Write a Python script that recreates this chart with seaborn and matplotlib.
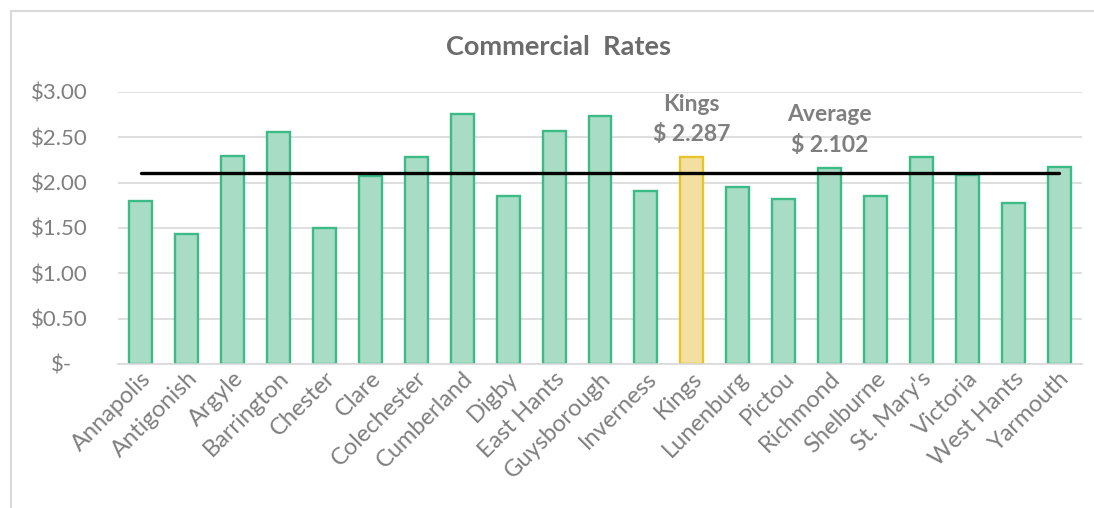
import matplotlib
matplotlib.use("Agg")
import matplotlib.pyplot as plt
import matplotlib.transforms as mtransforms
from matplotlib.lines import Line2D
import seaborn as sns
import pandas as pd

categories = ["Annapolis", "Antigonish", "Argyle", "Barrington", "Chester", "Clare",
              "Colechester", "Cumberland", "Digby", "East Hants", "Guysborough",
              "Inverness", "Kings", "Lunenburg", "Pictou", "Richmond", "Shelburne",
              "St. Mary's", "Victoria", "West Hants", "Yarmouth"]
rates = [1.80, 1.43, 2.29, 2.56, 1.50, 2.07, 2.28, 2.76, 1.85, 2.57, 2.73,
         1.91, 2.287, 1.955, 1.82, 2.16, 1.855, 2.28, 2.09, 1.775, 2.17]
average = 2.102
highlight = "Kings"
yticks = [0, 0.5, 1.0, 1.5, 2.0, 2.5, 3.0]
ytick_labels = ["$-", "$0.50", "$1.00", "$1.50", "$2.00", "$2.50", "$3.00"]

sns.set_theme(style="white")
plt.rcParams["font.family"] = ["Lato", "DejaVu Sans"]

GREEN_FILL = "#a8dcc4"
GREEN_EDGE = "#3dbb87"
GOLD_FILL = "#f3df9f"
GOLD_EDGE = "#e8c42a"
TEXT_GRAY = "#7f7f7f"

df = pd.DataFrame({"name": categories, "rate": rates})
palette = {c: (GOLD_FILL if c == highlight else GREEN_FILL) for c in categories}

fig = plt.figure(figsize=(10.94, 5.08), dpi=100)
ax = fig.add_axes([118 / 1094, 1 - 364 / 508, 964 / 1094, 272 / 508])

sns.barplot(data=df, x="name", y="rate", hue="name", palette=palette, legend=False,
            width=0.5, saturation=1, ax=ax, zorder=2)
for patch, c in zip(ax.patches, categories):
    patch.set_edgecolor(GOLD_EDGE if c == highlight else GREEN_EDGE)
    patch.set_linewidth(1.7)

ax.plot([0, len(categories) - 1], [average, average], color="black", lw=2.4,
        solid_capstyle="round", zorder=4)

ax.set_xlim(-0.5, len(categories) - 0.5)
ax.set_ylim(0, 3.0)
ax.set_yticks(yticks)
ax.set_yticklabels(ytick_labels)
ax.yaxis.grid(True, color="#d9d9d9", lw=1.2, zorder=0)
ax.set_axisbelow(True)
for s in ["top", "right", "left"]:
    ax.spines[s].set_visible(False)
ax.spines["bottom"].set_color("#d9d9d9")
ax.spines["bottom"].set_linewidth(1.2)
ax.set_xlabel("")
ax.set_ylabel("")

ax.tick_params(axis="y", length=0, pad=22, labelsize=16, labelcolor=TEXT_GRAY)
ax.tick_params(axis="x", length=0, pad=8, labelsize=17, labelcolor=TEXT_GRAY)
for lab in ax.get_yticklabels():
    if lab.get_text() == "$-":
        lab.set_transform(lab.get_transform() +
                          mtransforms.ScaledTranslation(-0.15, 0, fig.dpi_scale_trans))
for lab in ax.get_xticklabels():
    lab.set_rotation(45)
    lab.set_ha("right")
    lab.set_va("center")
    lab.set_rotation_mode("anchor")
    lab.set_transform(lab.get_transform() +
                      mtransforms.ScaledTranslation(0.07, 0, fig.dpi_scale_trans))

ki = categories.index(highlight)
ax.text(ki, 2.70, f"{highlight}\n$ {rates[ki]:.3f}", ha="center", va="center",
        fontsize=16.5, color=TEXT_GRAY, fontweight="bold", linespacing=1.55, zorder=5)
ax.text(15, 2.58, f"Average\n$ {average:.3f}", ha="center", va="center",
        fontsize=16.5, color=TEXT_GRAY, fontweight="bold", linespacing=1.55, zorder=5)

fig.text(558 / 1094, 1 - 47 / 508, "Commercial  Rates", ha="center", va="center",
         fontsize=19.5, fontweight="bold", color="#6b6b6b")

fig.add_artist(Line2D([11 / 1094, 1.0], [1 - 11 / 508, 1 - 11 / 508],
                      transform=fig.transFigure, color="#d9d9d9", lw=1.5))
fig.add_artist(Line2D([11 / 1094, 11 / 1094], [0.0, 1 - 11 / 508],
                      transform=fig.transFigure, color="#d9d9d9", lw=1.5))

fig.savefig("out.png", dpi=100, facecolor="white")
